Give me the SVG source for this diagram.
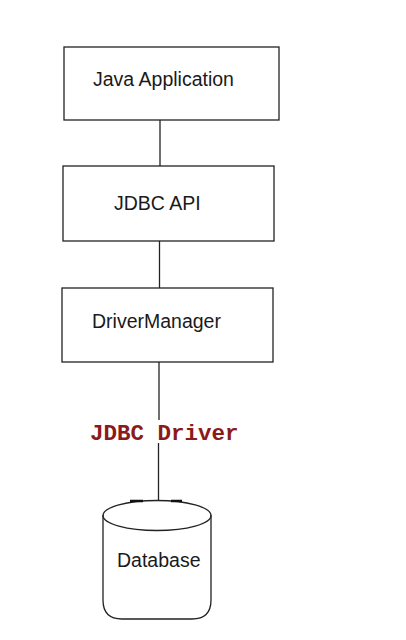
<svg xmlns="http://www.w3.org/2000/svg" width="406" height="640" viewBox="0 0 406 640">
<style>
.box{fill:#fff;stroke:#222;stroke-width:1.3}
.lbl{font-family:"Liberation Sans",Arial,sans-serif;font-size:19.5px;fill:#1a1a1a}
.con{stroke:#222;stroke-width:1.3;fill:none}
.drv{font-family:"Liberation Mono","Courier New",monospace;font-size:22.5px;font-weight:bold;fill:#8b1a1a}
</style>
<rect width="406" height="640" fill="#fff"/>
<g id="connectors">
<line class="con" x1="160" y1="120" x2="160" y2="166"/>
<line class="con" x1="159.5" y1="241" x2="159.5" y2="288"/>
<line class="con" x1="159" y1="362" x2="159" y2="420"/>
<line class="con" x1="158.5" y1="443" x2="158.5" y2="500"/>
<text class="drv" x="90" y="440">JDBC Driver</text>
</g>
<g id="java-application">
<rect class="box" x="64" y="47" width="215" height="73"/>
<text class="lbl" x="93" y="86">Java Application</text>
</g>
<g id="jdbc-api">
<rect class="box" x="63" y="166" width="211" height="75"/>
<text class="lbl" x="114" y="210">JDBC API</text>
</g>
<g id="driver-manager">
<rect class="box" x="62" y="288" width="211" height="74"/>
<text class="lbl" x="92" y="328">DriverManager</text>
</g>
<g id="database">
<path class="con" d="M103,515 L103,600 Q103,619 122,619 L192,619 Q211,619 211,600 L211,515"/>
<ellipse class="con" cx="157" cy="515.5" rx="54" ry="15"/>
<path d="M130,501 L143,501 M171,501 L182,501" stroke="#111" stroke-width="2.4"/>
<text class="lbl" x="117" y="567">Database</text>
</g>
</svg>
